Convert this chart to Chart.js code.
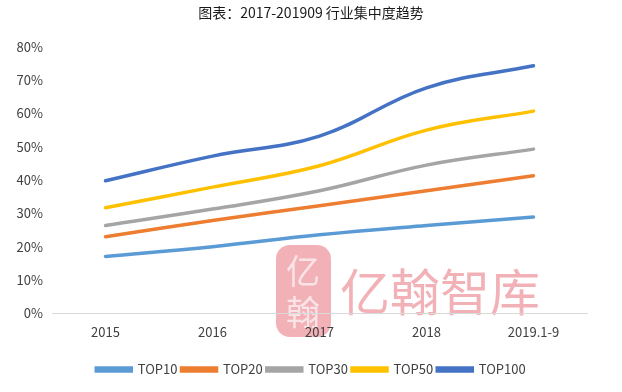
<!DOCTYPE html>
<html>
<head>
<meta charset="utf-8">
<script src="https://cdn.jsdelivr.net/npm/chart.js@4.4.1/dist/chart.umd.min.js"></script>
<style>
  html, body { margin: 0; padding: 0; background: #fff; }
  #wrap { width: 622px; height: 392px; }
</style>
</head>
<body>
<div id="wrap"><canvas id="chart"></canvas></div>
<script>
const categories = ['2015', '2016', '2017', '2018', '2019.1-9'];
const seriesNames = ['TOP10', 'TOP20', 'TOP30', 'TOP50', 'TOP100'];
const top10 = [17.1, 20.0, 23.6, 26.4, 28.9];
const top20 = [23.0, 27.9, 32.3, 36.8, 41.3];
const top30 = [26.4, 31.3, 36.8, 44.5, 49.3];
const top50 = [31.7, 37.9, 44.3, 55.0, 60.7];
const top100 = [39.8, 47.2, 53.2, 67.7, 74.3];
const colors = ['#5B9BD5', '#ED7D31', '#A5A5A5', '#FFC000', '#4472C4'];

const font = '"Noto Sans CJK SC", "Noto Sans", sans-serif';
const textColor = '#404040';

// faint watermark, drawn first so axes and lines sit on top
const watermark = {
  id: 'watermark',
  beforeDraw(chart) {
    const ctx = chart.ctx;
    ctx.save();
    ctx.globalAlpha = 0.65;
    ctx.fillStyle = '#ea8790';
    ctx.beginPath();
    ctx.roundRect(276, 245, 55, 92, 14);
    ctx.fill();
    ctx.fillStyle = '#ffffff';
    ctx.font = '34px ' + font;
    ctx.textAlign = 'center';
    ctx.textBaseline = 'middle';
    ctx.fillText('亿', 303, 271);
    ctx.fillText('翰', 303, 312);
    ctx.fillStyle = '#ea8790';
    ctx.font = '50px ' + font;
    ctx.textAlign = 'left';
    ctx.fillText('亿翰智库', 340, 292);
    ctx.restore();
  }
};

new Chart(document.getElementById('chart'), {
  type: 'line',
  data: {
    labels: categories,
    datasets: [top10, top20, top30, top50, top100].map((d, i) => ({
      label: seriesNames[i],
      data: d,
      borderColor: colors[i],
      backgroundColor: colors[i],
      borderWidth: 3.5,
      pointRadius: 0,
      tension: 0.4,
      borderCapStyle: 'round'
    }))
  },
  options: {
    responsive: true,
    maintainAspectRatio: false,
    animation: false,
    layout: { padding: { left: 0, right: 0, top: 2, bottom: 6 } },
    plugins: {
      title: {
        display: true,
        text: '图表：2017-201909 行业集中度趋势',
        color: '#1a1a1a',
        font: { family: font, size: 14, weight: 'normal' },
        padding: { top: 2, bottom: 26 }
      },
      legend: {
        position: 'bottom',
        labels: {
          color: textColor,
          font: { family: font, size: 13 },
          boxWidth: 35,
          boxHeight: 3,
          padding: 4
        }
      },
      tooltip: { enabled: false }
    },
    scales: {
      x: {
        offset: true,
        grid: { display: false, drawTicks: false },
        border: { display: true, color: '#d9d9d9', width: 1 },
        afterFit(scale) { scale.height += 8; },
        ticks: { color: textColor, font: { family: font, size: 13 }, padding: 11, maxRotation: 0 }
      },
      y: {
        min: 0,
        max: 80,
        grid: { display: false, drawTicks: false },
        border: { display: false },
        afterFit(scale) { scale.width = 52; },
        ticks: {
          stepSize: 10,
          color: textColor,
          font: { family: font, size: 13 },
          padding: 9,
          callback: v => v + '%'
        }
      },
      // empty right-hand axis, only reserves the margin on the right
      y2: {
        position: 'right',
        grid: { display: false, drawTicks: false },
        border: { display: false },
        ticks: { display: false },
        afterFit(scale) { scale.width = 35; }
      }
    }
  },
  plugins: [watermark]
});
</script>
</body>
</html>
